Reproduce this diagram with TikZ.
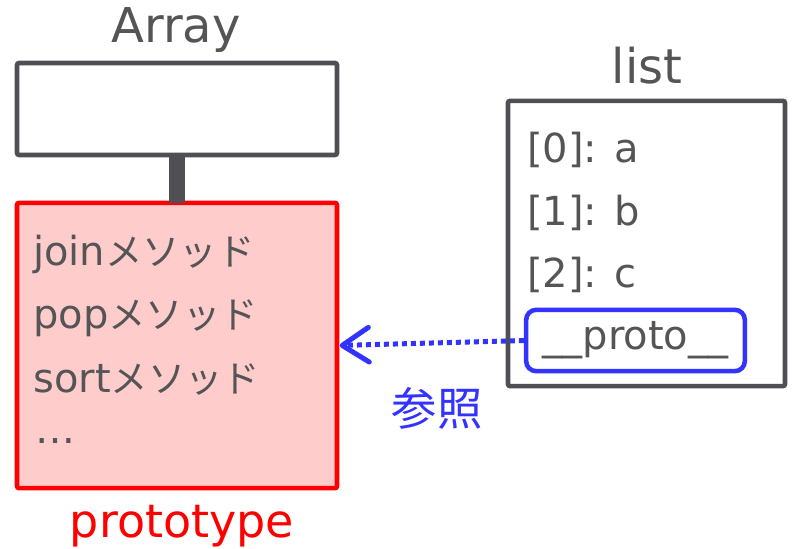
\documentclass[tikz,border=0pt]{standalone}
\usepackage{fontspec}
\setmainfont{DejaVu Sans}
\newfontfamily\jp{Noto Sans CJK JP}
\usetikzlibrary{arrows.meta}

\definecolor{boxgray}{HTML}{4F4F54}
\definecolor{textgray}{HTML}{555558}
\definecolor{refblue}{HTML}{3333FF}
\definecolor{protofill}{HTML}{FFCCCC}

\newcommand{\method}{{\jp\fontsize{28pt}{36pt}\selectfont メソッド}}

\tikzset{
    obj/.style={draw=boxgray, line width=3.4pt, rectangle, rounded corners=1.5pt,
        inner sep=0pt, outer sep=0pt},
    title/.style={text=textgray, font=\fontsize{36pt}{40pt}\selectfont, inner sep=0pt},
    item/.style={text=textgray, font=\fontsize{30pt}{36pt}\selectfont, inner sep=0pt, anchor=base west},
}

\begin{document}
\begin{tikzpicture}[x=0.75pt,y=-0.75pt]
\useasboundingbox (0,0) rectangle (792,549);
% constructor and its prototype
\node[title, anchor=base] (arraylabel) at (176,43) {Array};
\node[obj, fill=white, minimum width=240pt, minimum height=69pt] (arraybox) at (177,109) {};
\node[obj, draw=red, fill=protofill, minimum width=240pt, minimum height=214pt] (protobox) at (177,345.5) {};
\draw[boxgray, line width=12pt] (arraybox.south) -- (protobox.north);
\node[item] (join) at (33,265) {join\method};
\node[item] (pop)  at (33,328) {pop\method};
\node[item] (sort) at (33,392) {sort\method};
\node[item] (more) at (35,443) {…};
\node[text=red, font=\fontsize{34.5pt}{38pt}\selectfont, inner sep=0pt, anchor=base] (protolabel) at (182,537) {prototype};
% the instance
\node[title, anchor=base] (listlabel) at (647,84) {list};
\node[obj, fill=white, minimum width=207.75pt, minimum height=214pt] (listbox) at (646.5,243.5) {};
\node[item] (el0) at (527,163) {[0]: a};
\node[item] (el1) at (527,225) {[1]: b};
\node[item] (el2) at (527,287) {[2]: c};
\node[draw=refblue, line width=3.4pt, rounded corners=7.5pt, minimum width=164pt, minimum height=46pt,
    inner sep=0pt, text=textgray, font=\fontsize{30pt}{36pt}\selectfont] (proto) at (635.5,340.5) {\_\_proto\_\_};
% reference to the prototype
\draw[refblue, line width=3.75pt, dash pattern=on 3.75pt off 3pt,
    -{Straight Barb[length=20pt, width=26pt, line cap=round, line join=round]}]
    (proto.west) -- ([xshift=2pt]protobox.east);
\node[text=refblue, font=\jp\fontsize{34pt}{38pt}\selectfont, inner sep=0pt] (ref) at (437,408) {参照};
\end{tikzpicture}
\end{document}
